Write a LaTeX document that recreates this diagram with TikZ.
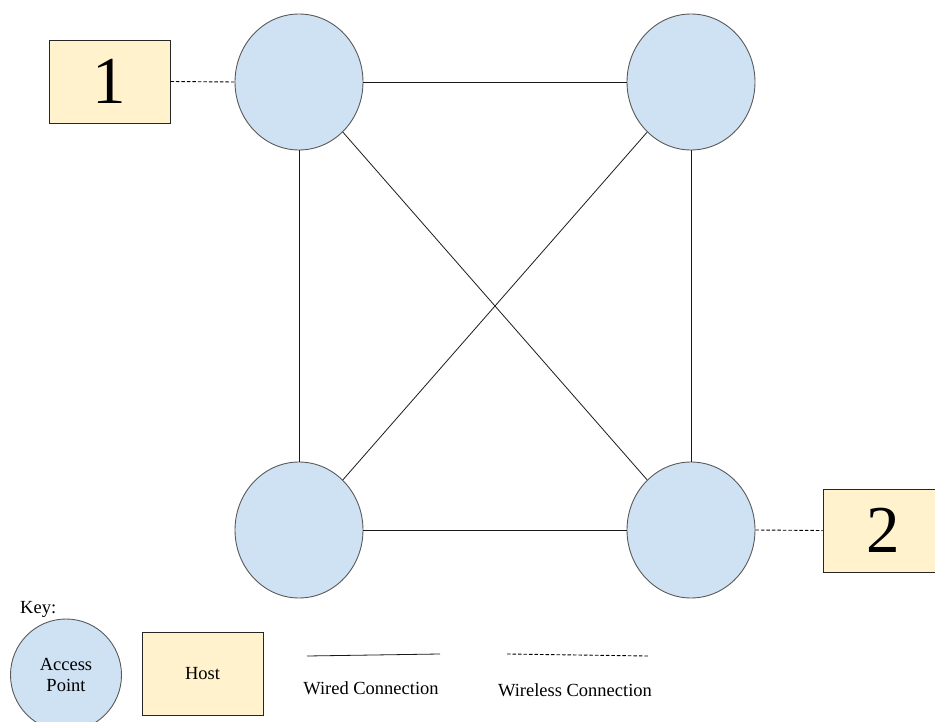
\documentclass[tikz,border=0pt]{standalone}
\usepackage{fontspec}
\setmainfont{Liberation Serif}
\usetikzlibrary{shapes.geometric}
\definecolor{apblue}{HTML}{CFE2F3}
\definecolor{hostyellow}{HTML}{FFF2CC}
\definecolor{edgegray}{HTML}{595959}
\begin{document}
\begin{tikzpicture}[x=1pt,y=-1pt,
  ap/.style={ellipse,draw=edgegray,line width=0.9pt,fill=apblue,minimum width=128pt,minimum height=136pt,inner sep=0pt},
  keyap/.style={ellipse,draw=edgegray,line width=0.9pt,fill=apblue,minimum width=111pt,minimum height=112pt,inner sep=0pt,align=center,font=\fontsize{18.5}{22}\selectfont},
  host/.style={rectangle,draw=black!85,line width=0.9pt,fill=hostyellow,minimum width=121pt,minimum height=83pt,inner sep=0pt},
  bignum/.style={font=\fontsize{67}{67}\selectfont},
  lbl/.style={font=\fontsize{18.5}{22}\selectfont,inner sep=0pt},
  wired/.style={draw=black!90,line width=0.8pt},
  wireless/.style={draw=black,line width=0.9pt,dash pattern=on 3.5pt off 2pt}]
\useasboundingbox (0,0) rectangle (935,722);
\clip (0,0) rectangle (935,722);
% access points
\node[ap] (tl) at (299,82) {};
\node[ap] (tr) at (691,82) {};
\node[ap] (bl) at (299,530) {};
\node[ap] (br) at (691,530) {};
% hosts
\node[host,bignum] (h1) at (109.5,81.5) {1};
\node[host,bignum] (h2) at (883.5,530.5) {2};
% wired connections
\draw[wired] (tl) -- (tr);
\draw[wired] (tl) -- (bl);
\draw[wired] (tr) -- (br);
\draw[wired] (bl) -- (br);
\draw[wired] (tl) -- (br);
\draw[wired] (tr) -- (bl);
% wireless connections
\draw[wireless] (h1.east) -- (tl.west);
\draw[wireless] (br.east) -- (h2.west);
% key
\node[lbl,anchor=west] (keylbl) at (20,609) {Key:};
\node[keyap] (kap) at (66,675) {Access\\[-1pt]Point};
\node[host,lbl] (khost) at (202.5,673.5) {Host};
\coordinate (w1) at (307,656);
\coordinate (w2) at (440,654);
\draw[wired] (w1) -- (w2);
\node[lbl] (wlbl) at (371,688) {Wired Connection};
\coordinate (d1) at (507,654);
\coordinate (d2) at (648,656);
\draw[wireless] (d1) -- (d2);
\node[lbl] (dlbl) at (575,690) {Wireless Connection};
\end{tikzpicture}
\end{document}
